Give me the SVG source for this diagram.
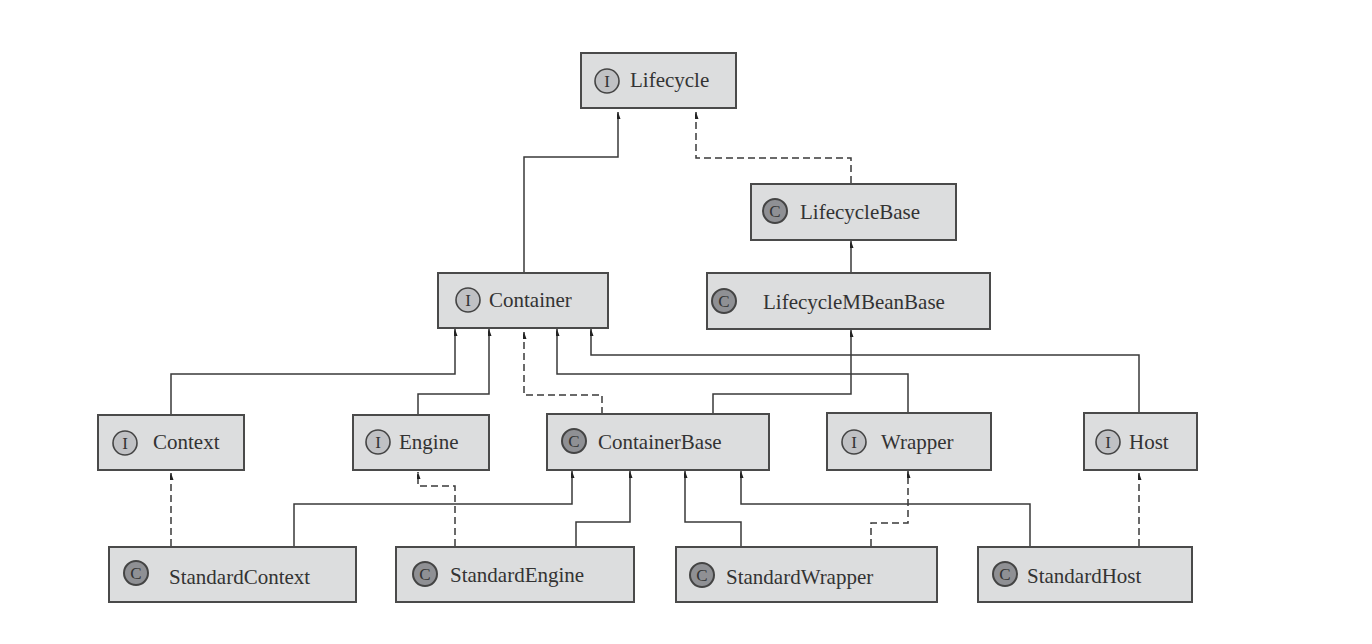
<svg xmlns="http://www.w3.org/2000/svg" xmlns:xlink="http://www.w3.org/1999/xlink" width="1372" height="644" viewBox="0 0 1372 644">
<style>
.box{fill:#dcddde;stroke:#4a4a4a;stroke-width:2}
.lbl{font-family:"Liberation Serif","DejaVu Serif",serif;font-size:21px;fill:#333}
.ci{fill:#c0c1c4;stroke:#444;stroke-width:1.6}
.cc{fill:#8f9094;stroke:#444;stroke-width:2}
.gl{font-family:"Liberation Serif",serif;font-size:17px;fill:#333;text-anchor:middle}
.s{fill:none;stroke:#3a3a3a;stroke-width:1.5;marker-end:url(#a)}
.d{fill:none;stroke:#3a3a3a;stroke-width:1.5;stroke-dasharray:7 4;marker-end:url(#a)}
</style>
<defs>
<marker id="a" markerUnits="userSpaceOnUse" markerWidth="14" markerHeight="16" refX="6" refY="1" orient="auto-start-reverse" viewBox="0 0 12 16">
<path d="M1 15 L6 1 L11 15 L6 12 Z" fill="#222" transform="rotate(90 6 1) translate(0 0)"/>
</marker>
</defs>
<rect width="1372" height="644" fill="#fff"/>
<g id="connectors">
<path class="s" d="M524 272V157H618V112"/>
<path class="d" d="M851 183V158H696V112"/>
<path class="s" d="M851 273V241"/>
<path class="s" d="M171 414V374H455V329"/>
<path class="s" d="M418 414V394H489V329"/>
<path class="d" d="M602 414V395H524V332"/>
<path class="s" d="M713 414V394H851V330"/>
<path class="s" d="M908 413V374H557V329"/>
<path class="s" d="M1139 413V355H591V329"/>
<path class="d" d="M171 546V473"/>
<path class="d" d="M455 546V486H418V472"/>
<path class="s" d="M294 546V504H572V471"/>
<path class="s" d="M576 546V522H630V471"/>
<path class="s" d="M741 546V522H685V471"/>
<path class="s" d="M1030 546V504H741V471"/>
<path class="d" d="M871 546V523H908V471"/>
<path class="d" d="M1139 546V473"/>
</g>
<g id="lifecycle"><rect class="box" x="581" y="53" width="155" height="55"/><circle class="ci" cx="607" cy="81" r="12"/><text class="gl" x="607" y="87">I</text><text class="lbl" x="630" y="87">Lifecycle</text></g>
<g id="lifecyclebase"><rect class="box" x="751" y="184" width="205" height="56"/><circle class="cc" cx="775" cy="211" r="12"/><text class="gl" x="775" y="217">C</text><text class="lbl" x="800" y="219">LifecycleBase</text></g>
<g id="lifecyclembeanbase"><rect class="box" x="707" y="273" width="283" height="56"/><circle class="cc" cx="724" cy="301" r="12"/><text class="gl" x="724" y="307">C</text><text class="lbl" x="763" y="309">LifecycleMBeanBase</text></g>
<g id="container"><rect class="box" x="438" y="273" width="170" height="55"/><circle class="ci" cx="468" cy="300" r="12"/><text class="gl" x="468" y="306">I</text><text class="lbl" x="489" y="307">Container</text></g>
<g id="context"><rect class="box" x="98" y="415" width="146" height="55"/><circle class="ci" cx="125" cy="443" r="12"/><text class="gl" x="125" y="449">I</text><text class="lbl" x="153" y="449">Context</text></g>
<g id="engine"><rect class="box" x="353" y="415" width="136" height="55"/><circle class="ci" cx="378" cy="442" r="12"/><text class="gl" x="378" y="448">I</text><text class="lbl" x="399" y="449">Engine</text></g>
<g id="containerbase"><rect class="box" x="547" y="414" width="222" height="56"/><circle class="cc" cx="574" cy="441" r="12"/><text class="gl" x="574" y="447">C</text><text class="lbl" x="598" y="449">ContainerBase</text></g>
<g id="wrapper"><rect class="box" x="827" y="413" width="164" height="57"/><circle class="ci" cx="854" cy="442" r="12"/><text class="gl" x="854" y="448">I</text><text class="lbl" x="881" y="449">Wrapper</text></g>
<g id="host"><rect class="box" x="1084" y="413" width="113" height="57"/><circle class="ci" cx="1108" cy="442" r="12"/><text class="gl" x="1108" y="448">I</text><text class="lbl" x="1129" y="449">Host</text></g>
<g id="standardcontext"><rect class="box" x="109" y="547" width="247" height="55"/><circle class="cc" cx="136" cy="573" r="12"/><text class="gl" x="136" y="579">C</text><text class="lbl" x="169" y="584">StandardContext</text></g>
<g id="standardengine"><rect class="box" x="396" y="547" width="238" height="55"/><circle class="cc" cx="425" cy="574" r="12"/><text class="gl" x="425" y="580">C</text><text class="lbl" x="450" y="582">StandardEngine</text></g>
<g id="standardwrapper"><rect class="box" x="676" y="547" width="261" height="55"/><circle class="cc" cx="702" cy="575" r="12"/><text class="gl" x="702" y="581">C</text><text class="lbl" x="726" y="584">StandardWrapper</text></g>
<g id="standardhost"><rect class="box" x="978" y="547" width="214" height="55"/><circle class="cc" cx="1005" cy="574" r="12"/><text class="gl" x="1005" y="580">C</text><text class="lbl" x="1027" y="583">StandardHost</text></g>
</svg>
